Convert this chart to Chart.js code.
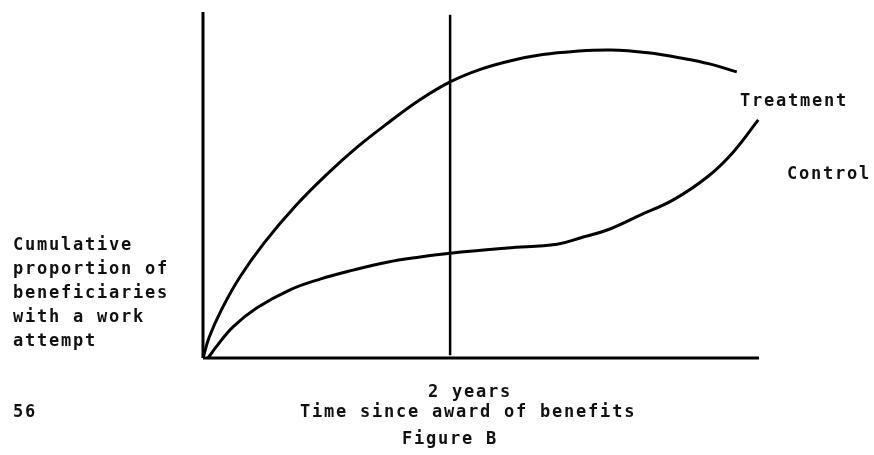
<!DOCTYPE html>
<html>
<head>
<meta charset="utf-8">
<title>Figure B</title>
<script src="https://cdn.jsdelivr.net/npm/chart.js@4"></script>
<style>
  html, body { margin: 0; padding: 0; background: #fff; }
  #caja { width: 874px; height: 455px; }
</style>
</head>
<body>
<div id="caja"><canvas id="figuraB" width="874" height="455"></canvas></div>
<script>
// Datos (x = años desde la concesion, y = proporcion acumulada, 0..1)
const tiempoTratamiento = [0, 0.05, 0.15, 0.30, 0.50, 0.75, 1.00, 1.25, 1.50, 1.75, 2.00, 2.25, 2.50, 2.75, 3.00, 3.30, 3.60, 3.90, 4.10, 4.32];
const valoresTratamiento = [0, 0.060, 0.140, 0.235, 0.335, 0.440, 0.530, 0.610, 0.680, 0.745, 0.798, 0.835, 0.860, 0.877, 0.886, 0.890, 0.882, 0.865, 0.850, 0.827];

const tiempoControl = [0.04, 0.113, 0.243, 0.437, 0.704, 0.947, 1.215, 1.49, 1.757, 2.00, 2.462, 2.866, 3.053, 3.271, 3.538, 3.806, 4.081, 4.291, 4.494];
const valoresControl = [0, 0.035, 0.090, 0.145, 0.197, 0.228, 0.254, 0.277, 0.292, 0.303, 0.318, 0.329, 0.347, 0.370, 0.413, 0.457, 0.523, 0.595, 0.688];

// Marca de los 2 años y limites de los ejes
const marcaAnios = 2;
const limiteX = 4.5;
const limiteY = 1;

// Textos de la figura
const etiquetaEjeY = ['Cumulative', 'proportion of', 'beneficiaries', 'with a work', 'attempt'];
const etiquetaMarca = '2 years';
const etiquetaEjeX = 'Time since award of benefits';
const tituloFigura = 'Figure B';
const numeroPagina = '56';
const nombreSeries = ['Treatment', 'Control'];

function aPuntos(xs, ys) {
  return xs.map((x, i) => ({ x: x, y: ys[i] }));
}

// Plugin sencillo para escribir los textos sueltos
const textosFigura = {
  id: 'textosFigura',
  afterDraw(chart) {
    const ctx = chart.ctx;
    ctx.save();
    ctx.fillStyle = '#111';
    ctx.font = 'bold 17px "DejaVu Sans Mono", "Liberation Mono", monospace';
    if ('letterSpacing' in ctx) ctx.letterSpacing = '1.77px';
    ctx.textAlign = 'left';
    ctx.textBaseline = 'middle';

    etiquetaEjeY.forEach((linea, i) => ctx.fillText(linea, 13, 246 + i * 24));
    ctx.fillText(numeroPagina, 13, 413);
    ctx.fillText(etiquetaMarca, 428, 393);
    ctx.fillText(etiquetaEjeX, 300, 413);
    ctx.fillText(tituloFigura, 402, 440);
    ctx.fillText(nombreSeries[0], 740, 102);
    ctx.fillText(nombreSeries[1], 787, 175);
    ctx.restore();
  }
};

const estiloLinea = {
  borderColor: '#000',
  pointRadius: 0,
  fill: false,
  clip: false,
  showLine: true
};

new Chart(document.getElementById('figuraB').getContext('2d'), {
  type: 'scatter',
  data: {
    datasets: [
      Object.assign({ label: nombreSeries[0], data: aPuntos(tiempoTratamiento, valoresTratamiento), borderWidth: 3, tension: 0.4 }, estiloLinea),
      Object.assign({ label: nombreSeries[1], data: aPuntos(tiempoControl, valoresControl), borderWidth: 3, tension: 0.4 }, estiloLinea),
      // linea vertical de los 2 años
      Object.assign({ label: 'marca', data: [{ x: marcaAnios, y: 0.008 }, { x: marcaAnios, y: 0.992 }], borderWidth: 2.5 }, estiloLinea),
      // ejes dibujados como lineas
      Object.assign({ label: 'ejeY', data: [{ x: 0, y: 0 }, { x: 0, y: limiteY }], borderWidth: 3 }, estiloLinea),
      Object.assign({ label: 'ejeX', data: [{ x: 0, y: 0 }, { x: limiteX, y: 0 }], borderWidth: 3 }, estiloLinea)
    ]
  },
  options: {
    responsive: false,
    animation: false,
    events: [],
    layout: { padding: { left: 203, right: 115, top: 12, bottom: 97 } },
    scales: {
      x: { type: 'linear', display: false, min: 0, max: limiteX },
      y: { type: 'linear', display: false, min: 0, max: limiteY }
    },
    plugins: {
      legend: { display: false },
      tooltip: { enabled: false }
    }
  },
  plugins: [textosFigura]
});
</script>
</body>
</html>
